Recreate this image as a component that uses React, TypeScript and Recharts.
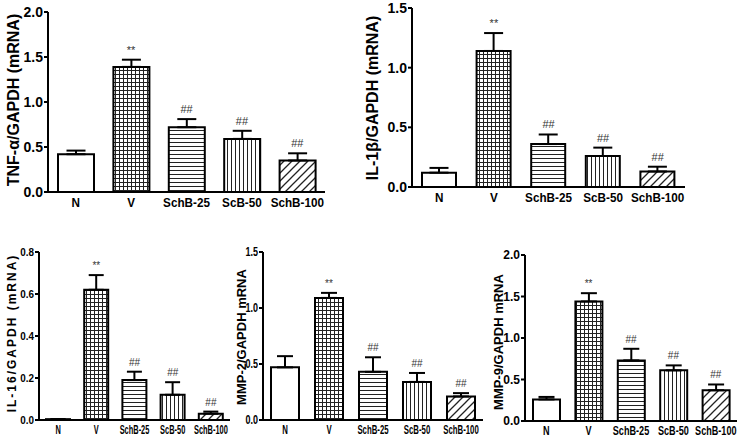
import React from 'react'
import { ComposedChart, Bar, Line, XAxis, YAxis, ErrorBar, Cell, LabelList } from 'recharts'

// groups on every panel
const groups = ['N', 'V', 'SchB-25', 'ScB-50', 'SchB-100']
const marks = ['', '**', '##', '##', '##']
const fills = ['#ffffff', 'url(#pGrid)', 'url(#pHoriz)', 'url(#pVert)', 'url(#pDiag)']

// values (mean, upper SEM)
const tnfMean = [0.42, 1.39, 0.72, 0.59, 0.35]
const tnfErr = [0.04, 0.08, 0.09, 0.09, 0.08]
const il1bMean = [0.12, 1.14, 0.36, 0.26, 0.13]
const il1bErr = [0.04, 0.15, 0.08, 0.07, 0.04]
const il16Mean = [0.004, 0.62, 0.19, 0.12, 0.03]
const il16Err = [0, 0.07, 0.04, 0.06, 0.01]
const mmp2Mean = [0.47, 1.09, 0.43, 0.34, 0.21]
const mmp2Err = [0.1, 0.045, 0.13, 0.08, 0.03]
const mmp9Mean = [0.26, 1.44, 0.73, 0.61, 0.37]
const mmp9Err = [0.03, 0.1, 0.14, 0.06, 0.07]

const ticks2 = [0, 0.5, 1, 1.5, 2]
const ticks15 = [0, 0.5, 1, 1.5]
const ticks08 = [0, 0.2, 0.4, 0.6, 0.8]

const SANS = 'Arial, "Liberation Sans", sans-serif'

function buildRows(mean: number[], err: number[]) {
  return groups.map((g, i) => ({
    group: g,
    mean: mean[i],
    err: [0, err[i]],
    cap: mean[i] + err[i],
    mark: marks[i],
  }))
}

// bold tick text, squeezed sideways like the scanned figure
function makeTick(size: number, sx: number, axis: 'x' | 'y') {
  return (props: any) => {
    const { x, y, payload } = props
    const label = axis === 'y' ? Number(payload.value).toFixed(1) : payload.value
    return (
      <text
        transform={`translate(${x},${y}) scale(${sx},1)`}
        textAnchor={axis === 'y' ? 'end' : 'middle'}
        dy={axis === 'y' ? '0.35em' : '0.71em'}
        fontSize={size}
        fontWeight={700}
        fontFamily={SANS}
        fill="#000"
      >
        {label}
      </text>
    )
  }
}

interface PanelProps {
  mean: number[]
  err: number[]
  box: { x1: number; y1: number; x2: number; y2: number }
  domain: [number, number]
  ticks: number[]
  barSize: number
  capWidth: number
  tickFont: number
  tickSx: number
  catFont: number
  catSx: number
  catGap: number
  xh: number
  markFont: number
}

function Panel(p: PanelProps) {
  const rows = buildRows(p.mean, p.err)
  const yw = 45
  const mt = 10
  const left = p.box.x1 - yw
  const top = p.box.y1 - mt
  const width = p.box.x2 - left
  const height = p.box.y2 + p.xh - top

  const renderMark = (props: any) => {
    const { x, y, value } = props
    if (!value) return null
    return (
      <text x={x} y={y - 6} textAnchor="middle" fontSize={p.markFont} fill="#333" fontFamily={SANS}>
        {value}
      </text>
    )
  }

  return (
    <div style={{ position: 'absolute', left, top, width, height }}>
      <ComposedChart width={width} height={height} data={rows} margin={{ top: mt, right: 0, bottom: 0, left: 0 }}>
        <XAxis
          dataKey="group"
          height={p.xh}
          interval={0}
          tickLine={false}
          tickSize={p.catGap}
          axisLine={{ stroke: '#000', strokeWidth: 2 }}
          tick={makeTick(p.catFont, p.catSx, 'x')}
        />
        <YAxis
          width={yw}
          domain={p.domain}
          ticks={p.ticks}
          interval={0}
          tickSize={4}
          tickMargin={1}
          axisLine={{ stroke: '#000', strokeWidth: 2 }}
          tickLine={{ stroke: '#000', strokeWidth: 2 }}
          tick={makeTick(p.tickFont, p.tickSx, 'y')}
        />
        <Bar dataKey="mean" barSize={p.barSize} stroke="#000" strokeWidth={2} isAnimationActive={false}>
          {rows.map((r, i) => (
            <Cell key={r.group} fill={fills[i]} />
          ))}
          <ErrorBar dataKey="err" width={p.capWidth / 2} stroke="#000" strokeWidth={2} direction="y" />
        </Bar>
        <Line dataKey="cap" stroke="none" dot={false} activeDot={false} legendType="none" isAnimationActive={false}>
          <LabelList dataKey="mark" content={renderMark} />
        </Line>
      </ComposedChart>
    </div>
  )
}

function Title({ x, y, text, size, spacing = 0 }: { x: number; y: number; text: string; size: number; spacing?: number }) {
  return (
    <text
      transform={`translate(${x},${y}) rotate(-90)`}
      textAnchor="middle"
      dy="0.35em"
      fontSize={size}
      fontWeight={700}
      letterSpacing={spacing}
      fontFamily={SANS}
      fill="#000"
    >
      {text}
    </text>
  )
}

export default function App() {
  return (
    <div style={{ position: 'absolute', left: 0, top: 0, width: 740, height: 438, background: '#fff', overflow: 'hidden' }}>
      <svg width={0} height={0} style={{ position: 'absolute' }}>
        <defs>
          <pattern id="pGrid" patternUnits="userSpaceOnUse" width={4} height={4}>
            <rect width={4} height={4} fill="#fff" />
            <path d="M0,0.5 H4 M0.5,0 V4" stroke="#222" strokeWidth={1} />
          </pattern>
          <pattern id="pHoriz" patternUnits="userSpaceOnUse" width={4} height={4}>
            <rect width={4} height={4} fill="#fff" />
            <path d="M0,0.5 H4" stroke="#222" strokeWidth={1} />
          </pattern>
          <pattern id="pVert" patternUnits="userSpaceOnUse" width={4} height={4}>
            <rect width={4} height={4} fill="#fff" />
            <path d="M0.5,0 V4" stroke="#222" strokeWidth={1} />
          </pattern>
          <pattern id="pDiag" patternUnits="userSpaceOnUse" width={8} height={8}>
            <rect width={8} height={8} fill="#fff" />
            <path d="M0,8 L8,0 M-2,2 L2,-2 M6,10 L10,6" stroke="#222" strokeWidth={1.3} />
          </pattern>
        </defs>
      </svg>

      <Panel mean={tnfMean} err={tnfErr} box={{ x1: 48, y1: 12, x2: 325, y2: 192 }} domain={[0, 2]} ticks={ticks2}
        barSize={36} capWidth={19} tickFont={14} tickSx={1} catFont={13} catSx={0.9} catGap={4} xh={24} markFont={11} />
      <Panel mean={il1bMean} err={il1bErr} box={{ x1: 412, y1: 8, x2: 685, y2: 187 }} domain={[0, 1.5]} ticks={ticks15}
        barSize={34} capWidth={19} tickFont={14} tickSx={1} catFont={13} catSx={0.9} catGap={4} xh={24} markFont={11} />
      <Panel mean={il16Mean} err={il16Err} box={{ x1: 39, y1: 252, x2: 230, y2: 420 }} domain={[0, 0.8]} ticks={ticks08}
        barSize={24} capWidth={15} tickFont={11} tickSx={0.9} catFont={12} catSx={0.62} catGap={3} xh={18} markFont={10} />
      <Panel mean={mmp2Mean} err={mmp2Err} box={{ x1: 263, y1: 252, x2: 483, y2: 420 }} domain={[0, 1.5]} ticks={ticks15}
        barSize={28} capWidth={16} tickFont={12} tickSx={0.75} catFont={13} catSx={0.6} catGap={3} xh={18} markFont={10} />
      <Panel mean={mmp9Mean} err={mmp9Err} box={{ x1: 525, y1: 255, x2: 737, y2: 421 }} domain={[0, 2]} ticks={ticks2}
        barSize={27} capWidth={16} tickFont={12} tickSx={1} catFont={13} catSx={0.7} catGap={3} xh={17} markFont={10} />

      <svg width={740} height={438} style={{ position: 'absolute', left: 0, top: 0, pointerEvents: 'none' }}>
        <Title x={13} y={100} text="TNF-α/GAPDH (mRNA)" size={16} />
        <Title x={372} y={98} text="IL-1β/GAPDH (mRNA)" size={16} />
        <Title x={12} y={333} text="IL-16/GAPDH (mRNA)" size={12} spacing={2} />
        <Title x={241} y={337} text="MMP-2/GAPDH mRNA" size={13} />
        <Title x={498} y={342} text="MMP-9/GAPDH mRNA" size={13} />
      </svg>
    </div>
  )
}
